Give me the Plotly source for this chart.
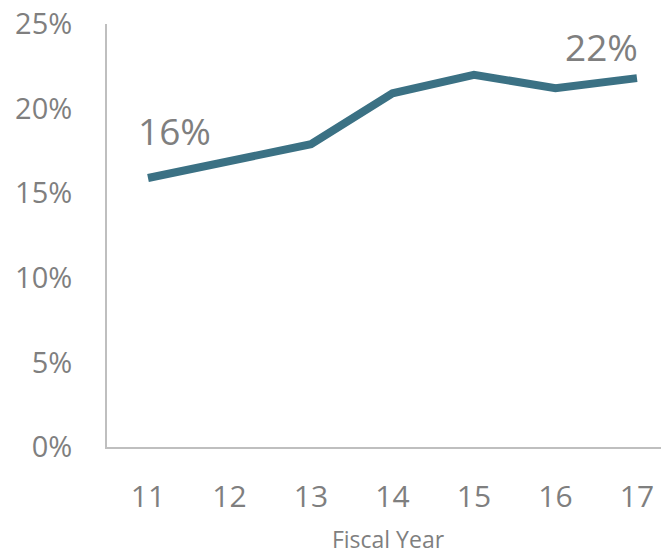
import plotly.graph_objects as go

years = [11, 12, 13, 14, 15, 16, 17]
share = [15.9, 16.9, 17.9, 20.9, 22.0, 21.2, 21.8]
y_ticks = [0, 5, 10, 15, 20, 25]
y_tick_labels = ["0%", "5%", "10%", "15%", "20%", "25%"]

grey = "#7f7f7f"
line_col = "#3b7184"

fig = go.Figure()
fig.add_trace(go.Scatter(x=years, y=share, mode="lines",
                         line=dict(color=line_col, width=8)))

# labels on first and last points
fig.add_annotation(x=years[0], y=share[0], text=f"{round(share[0])}%", showarrow=False,
                   xanchor="left", yanchor="middle", xshift=-12, yshift=47,
                   font=dict(size=37, color=grey))
fig.add_annotation(x=years[-1], y=share[-1], text=f"{round(share[-1])}%", showarrow=False,
                   xanchor="right", yanchor="middle", xshift=3, yshift=32,
                   font=dict(size=37, color=grey))

# page body has 8px margin, so the figure is a bit smaller
fig.update_layout(
    width=661, height=547,
    margin=dict(l=99, r=0, t=16, b=108),
    paper_bgcolor="white", plot_bgcolor="white",
    showlegend=False,
    font=dict(family="Open Sans", color=grey),
)
fig.update_xaxes(range=[10.497, 17.393], tickvals=years, ticktext=[str(y) for y in years],
                 showgrid=False, zeroline=False, showline=True, linecolor="#bfbfbf", linewidth=2,
                 ticks="", ticklabelstandoff=22, tickfont=dict(size=30, color=grey), automargin=False,
                 ticklabeloverflow="allow",
                 title=dict(text="Fiscal Year", font=dict(size=23, color=grey), standoff=18))
fig.update_yaxes(range=[0, 25], tickvals=y_ticks, ticktext=y_tick_labels,
                 showgrid=False, zeroline=False, showline=True, linecolor="#bfbfbf", linewidth=2,
                 ticks="", ticklabelstandoff=27, tickfont=dict(size=29, color=grey), automargin=False,
                 ticklabeloverflow="allow")

fig.write_html("out.html")
